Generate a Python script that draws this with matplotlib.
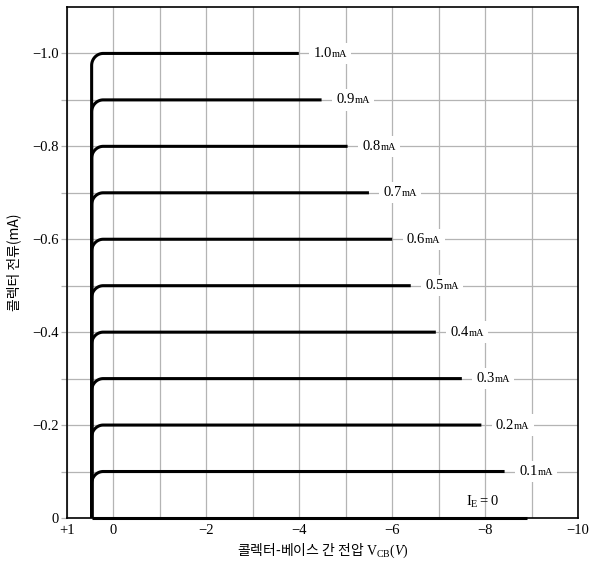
import numpy as np
import matplotlib
matplotlib.use('Agg')
import matplotlib.pyplot as plt
from matplotlib.offsetbox import AnnotationBbox, HPacker, TextArea

# Données
emitter_currents = [0.1, 0.2, 0.3, 0.4, 0.5, 0.6, 0.7, 0.8, 0.9, 1.0]   # I_E (mA)
end_voltages = [-8.42, -7.92, -7.5, -6.94, -6.4, -6.0, -5.5, -5.04, -4.48, -3.99]
curve_labels = ['0.1', '0.2', '0.3', '0.4', '0.5', '0.6', '0.7', '0.8', '0.9', '1.0']
zero_end_voltage = -8.9   # courbe I_E = 0
v_start = 0.47            # tension ou les courbes montent a la verticale

x_ticks = [1, 0, -2, -4, -6, -8, -10]
x_tick_labels = ['+1', '0', '\u22122', '\u22124', '\u22126', '\u22128', '\u221210']
y_ticks = [0, -0.2, -0.4, -0.6, -0.8, -1.0]
y_tick_labels = ['0', '\u22120.2', '\u22120.4', '\u22120.6', '\u22120.8', '\u22121.0']

# taille du coude arrondi (V, mA)
knee_dv = 0.25
knee_di = 0.026

plt.rcParams['mathtext.fontset'] = 'custom'
plt.rcParams['mathtext.rm'] = 'Liberation Serif'
plt.rcParams['mathtext.it'] = 'Liberation Serif:italic'
plt.rcParams['font.family'] = ['Liberation Serif', 'DejaVu Sans']

serif = 'Liberation Serif'
korean = ['Noto Sans CJK KR', 'DejaVu Sans']

fig = plt.figure(figsize=(6.0, 5.63), dpi=100)
ax = fig.add_axes([0.1117, 0.080, 0.8516, 0.9076])

ax.set_xlim(1, -10)
ax.set_ylim(0, -1.1)

# Grille
ax.set_xticks(np.arange(0, -10, -1), minor=True)
ax.set_yticks(np.arange(-0.1, -1.1, -0.2), minor=True)
ax.set_xticks(x_ticks)
ax.set_xticklabels(x_tick_labels, fontsize=10.5, family=serif)
ax.set_yticks(y_ticks)
ax.set_yticklabels(y_tick_labels, fontsize=10.5, family=serif)
ax.grid(True, which='both', color='#b4b4b4', linewidth=0.9)
ax.set_axisbelow(True)
ax.tick_params(axis='x', which='both', length=0, pad=4)
ax.tick_params(axis='y', which='both', length=4, color='#b4b4b4', width=0.9, pad=2)
for s in ax.spines.values():
    s.set_linewidth(1.2)
    s.set_color('black')

# Courbes caracteristiques : montee verticale, coude arrondi, palier
theta = np.linspace(0, np.pi / 2, 60)
for ie, v_end, lab in zip(emitter_currents, end_voltages, curve_labels):
    v = np.concatenate([[v_start], v_start - knee_dv + knee_dv * np.cos(theta), [v_end]])
    i = np.concatenate([[0], ie - knee_di + knee_di * np.sin(theta), [ie]])
    ax.plot(v, -i, color='black', linewidth=2.2, solid_capstyle='butt',
            solid_joinstyle='round', zorder=3)

    num = TextArea(lab, textprops=dict(fontsize=10.5, family=serif))
    unit = TextArea('mA', textprops=dict(fontsize=7.5, family=serif))
    box = HPacker(children=[num, unit], align='baseline', pad=0, sep=0)
    ab = AnnotationBbox(box, (v_end, -ie), xybox=(10.5, 0), xycoords='data',
                        boxcoords='offset points', box_alignment=(0, 0.5),
                        frameon=True, pad=0.25,
                        bboxprops=dict(fc='white', ec='none', boxstyle='square'))
    ab.set_zorder(4)
    ax.add_artist(ab)

ax.plot([v_start, zero_end_voltage], [0, 0], color='black', linewidth=2.2,
        solid_capstyle='butt', zorder=3, clip_on=False)
ax.text(-7.95, -0.035, r'$\mathrm{I_E{=}0}$', ha='center', va='center', fontsize=10.5)

ax.set_xlabel(r'콜렉터-베이스 간 전압 $\mathrm{V_{CB}}(V)$', family=korean,
              fontsize=10, labelpad=4)
ax.set_ylabel('콜렉터 전류(mA)', family=korean, fontsize=10, labelpad=8)

fig.savefig('out.png', dpi=100)
